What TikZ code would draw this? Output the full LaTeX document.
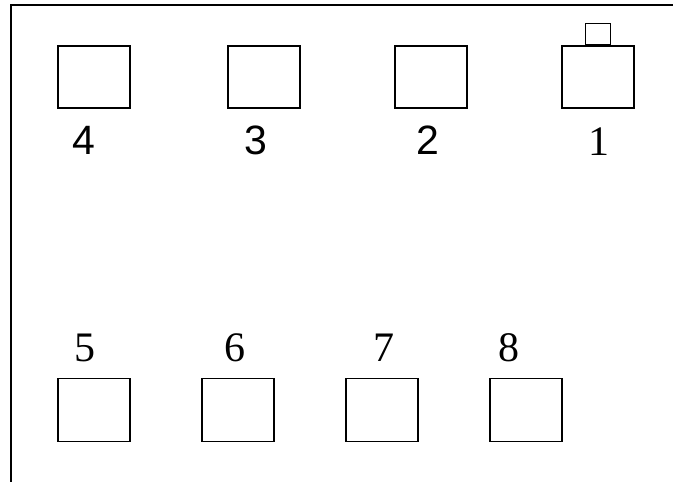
\documentclass[tikz,border=0pt]{standalone}
\usepackage{fontspec}
\setmainfont{Liberation Serif}
\newfontfamily\arialf{Liberation Sans}
\begin{document}
\begin{tikzpicture}[x=1pt,y=-1pt,
  box/.style={draw,line width=1.6pt,minimum width=72pt,minimum height=62pt,inner sep=0pt},
  tab/.style={draw,line width=1.6pt,minimum width=25pt,minimum height=21pt,inner sep=0pt},
  lbl/.style={font=\fontsize{42}{42}\selectfont,inner sep=0pt},
  slbl/.style={font=\arialf\fontsize{41}{41}\selectfont,inner sep=0pt}]
\useasboundingbox (0,0) rectangle (673,482);
\coordinate (tl) at (11,5);
\coordinate (tr) at (673,5);
\coordinate (bl) at (11,482);
\draw[line width=2pt] (bl) -- (tl) -- (tr);
% top row
\node[box] (b4) at (94,77) {};
\node[box] (b3) at (264,77) {};
\node[box] (b2) at (431,77) {};
\node[box] (b1) at (598,77) {};
\node[tab,anchor=south] (t1) at (b1.north) {};
\node[slbl] (l4) at (84,140) {4};
\node[slbl] (l3) at (256,140) {3};
\node[slbl] (l2) at (428,140) {2};
\node[lbl] (l1) at (599,142) {1};
% bottom row
\node[box,minimum height=63pt] (b5) at (94,410) {};
\node[box,minimum height=63pt] (b6) at (238,410) {};
\node[box,minimum height=63pt] (b7) at (382,410) {};
\node[box,minimum height=63pt] (b8) at (526,410) {};
\node[lbl] (l5) at (85,348) {5};
\node[lbl] (l6) at (235,348) {6};
\node[lbl] (l7) at (384,348) {7};
\node[lbl] (l8) at (509,348) {8};
\end{tikzpicture}
\end{document}
